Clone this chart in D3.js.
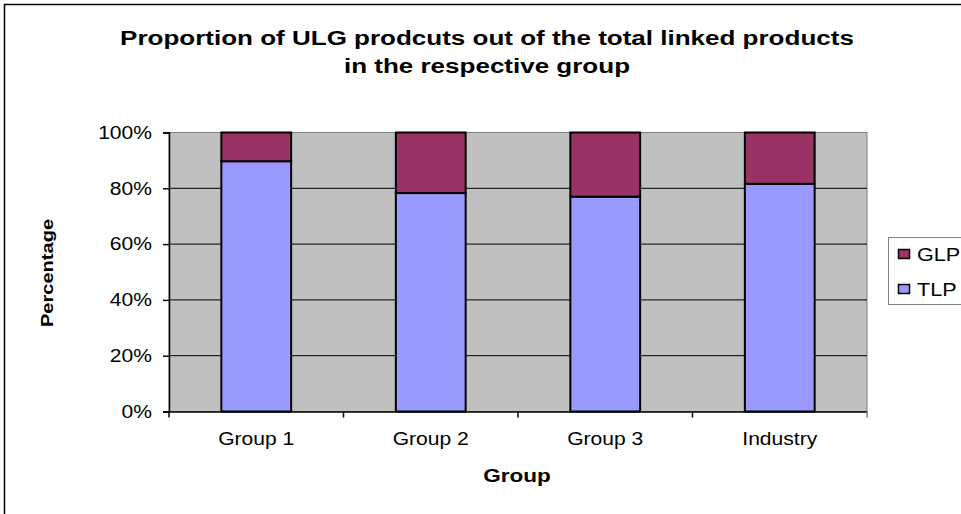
<!DOCTYPE html>
<html>
<head>
<meta charset="utf-8">
<script src="https://cdn.jsdelivr.net/npm/d3@7"></script>
<style>
  body { margin: 0; background: #fff; }
  text { font-family: "Liberation Sans", Arial, sans-serif; }
</style>
</head>
<body>
<div id="chart"></div>
<script>
//~~~~~~~~~~~~~~~~~~DATA
let groups = ['Group 1', 'Group 2', 'Group 3', 'Industry'];
let tlp = [89.7, 78.3, 77.0, 81.6];
let glp = [10.3, 21.7, 23.0, 18.4];
let seriesNames = ['TLP', 'GLP'];
let seriesColors = ['#9999FF', '#993366'];
let yTicks = [0, 20, 40, 60, 80, 100];

//~~~~~~~~~~~~~~~~~~SIZES
let width = 961;
let height = 514;
let plot = { left: 169, top: 132.5, right: 867, bottom: 411.5 };
let font = '"Liberation Sans", Arial, sans-serif';

//the source image is a bit wider than tall, so text gets stretched sideways
function stretch(sel, k) {
  sel.each(function() {
    let w = this.getComputedTextLength();
    d3.select(this)
      .attr('textLength', w * k)
      .attr('lengthAdjust', 'spacingAndGlyphs');
  });
}

let svg = d3.select('#chart')
  .append('svg')
  .attr('width', width)
  .attr('height', height);

//outer chart border (runs off the right and bottom edges)
svg.append('rect')
  .attr('x', 4.5).attr('y', 4.5)
  .attr('width', 1000).attr('height', 600)
  .attr('fill', '#fff')
  .attr('stroke', '#000')
  .attr('stroke-width', 1.5);

//scales
let x = d3.scaleBand()
  .domain(groups)
  .range([plot.left, plot.right])
  .paddingInner(0.6)
  .paddingOuter(0.3);

let y = d3.scaleLinear()
  .domain([0, 100])
  .range([plot.bottom, plot.top]);

//plot background
svg.append('rect')
  .attr('x', plot.left).attr('y', plot.top)
  .attr('width', plot.right - plot.left)
  .attr('height', plot.bottom - plot.top)
  .attr('fill', '#C0C0C0')
  .attr('stroke', '#808080')
  .attr('stroke-width', 1);

//gridlines
svg.append('g')
  .selectAll('line')
  .data(yTicks.filter(d => d > 0 && d < 100))
  .enter()
  .append('line')
  .attr('x1', plot.left).attr('x2', plot.right)
  .attr('y1', d => y(d)).attr('y2', d => y(d))
  .attr('stroke', '#000')
  .attr('stroke-width', 1);

//stacked bars
let rows = groups.map((g, i) => ({ group: g, TLP: tlp[i], GLP: glp[i] }));
let stack = d3.stack().keys(seriesNames)(rows);
let color = d3.scaleOrdinal().domain(seriesNames).range(seriesColors);

svg.append('g')
  .selectAll('g')
  .data(stack)
  .enter()
  .append('g')
  .attr('fill', d => color(d.key))
  .selectAll('rect')
  .data(d => d)
  .enter()
  .append('rect')
  .attr('x', d => x(d.data.group))
  .attr('y', d => y(d[1]))
  .attr('width', x.bandwidth())
  .attr('height', d => y(d[0]) - y(d[1]))
  .attr('stroke', '#000')
  .attr('stroke-width', 2);

//y axis
let yAxis = svg.append('g')
  .attr('transform', 'translate(' + plot.left + ',0)')
  .call(d3.axisLeft(y).tickValues(yTicks).tickFormat(d => d + '%').tickSize(6).tickPadding(11));
yAxis.select('.domain').attr('stroke', '#000').attr('stroke-width', 1.5);
yAxis.selectAll('.tick line').attr('stroke', '#000').attr('stroke-width', 1.5);
yAxis.selectAll('text').attr('font-size', 18).attr('fill', '#000').style('font-family', font);
stretch(yAxis.selectAll('text'), 1.17);

//x axis
let xAxis = svg.append('g')
  .attr('transform', 'translate(0,' + plot.bottom + ')')
  .call(d3.axisBottom(x).tickSize(0).tickPadding(21));
xAxis.select('.domain').attr('stroke', '#000').attr('stroke-width', 1.5);
xAxis.selectAll('text').attr('font-size', 18).attr('fill', '#000').style('font-family', font);
stretch(xAxis.selectAll('text'), 1.17);

//category separator ticks
let seps = d3.range(groups.length + 1).map(i => plot.left + i * (plot.right - plot.left) / groups.length);
svg.append('g')
  .selectAll('line')
  .data(seps)
  .enter()
  .append('line')
  .attr('x1', d => d).attr('x2', d => d)
  .attr('y1', plot.bottom).attr('y2', plot.bottom + 6)
  .attr('stroke', d => d === plot.right ? '#808080' : '#000')
  .attr('stroke-width', 1.5);

//title
let title = svg.append('g')
  .attr('font-size', 20)
  .attr('font-weight', 'bold')
  .attr('text-anchor', 'middle');
title.append('text').attr('x', 487).attr('y', 45)
  .text('Proportion of ULG prodcuts out of the total linked products');
title.append('text').attr('x', 487).attr('y', 73)
  .text('in the respective group');
stretch(title.selectAll('text'), 1.3);

//axis titles
let yTitle = svg.append('text')
  .attr('transform', 'translate(53,273) rotate(-90)')
  .attr('text-anchor', 'middle')
  .attr('font-size', 17)
  .attr('font-weight', 'bold')
  .text('Percentage');
stretch(yTitle, 1.18);

let xTitle = svg.append('text')
  .attr('x', 517)
  .attr('y', 482)
  .attr('text-anchor', 'middle')
  .attr('font-size', 18)
  .attr('font-weight', 'bold')
  .text('Group');
stretch(xTitle, 1.25);

//legend
svg.append('rect')
  .attr('x', 888.5).attr('y', 237.5)
  .attr('width', 100).attr('height', 67)
  .attr('fill', '#fff')
  .attr('stroke', '#808080')
  .attr('stroke-width', 1);

let legendOrder = ['GLP', 'TLP'];
let legend = svg.selectAll('.legend')
  .data(legendOrder)
  .enter()
  .append('g')
  .attr('class', 'legend')
  .attr('transform', (d, i) => 'translate(898,' + (254 + i * 35) + ')');

legend.append('rect')
  .attr('x', 0.5).attr('y', -4.5)
  .attr('width', 11).attr('height', 9)
  .attr('fill', d => color(d))
  .attr('stroke', '#000')
  .attr('stroke-width', 1.5);

legend.append('text')
  .attr('x', 19)
  .attr('y', 6.5)
  .attr('font-size', 18)
  .text(d => d);
stretch(legend.selectAll('text'), 1.2);
</script>
</body>
</html>
